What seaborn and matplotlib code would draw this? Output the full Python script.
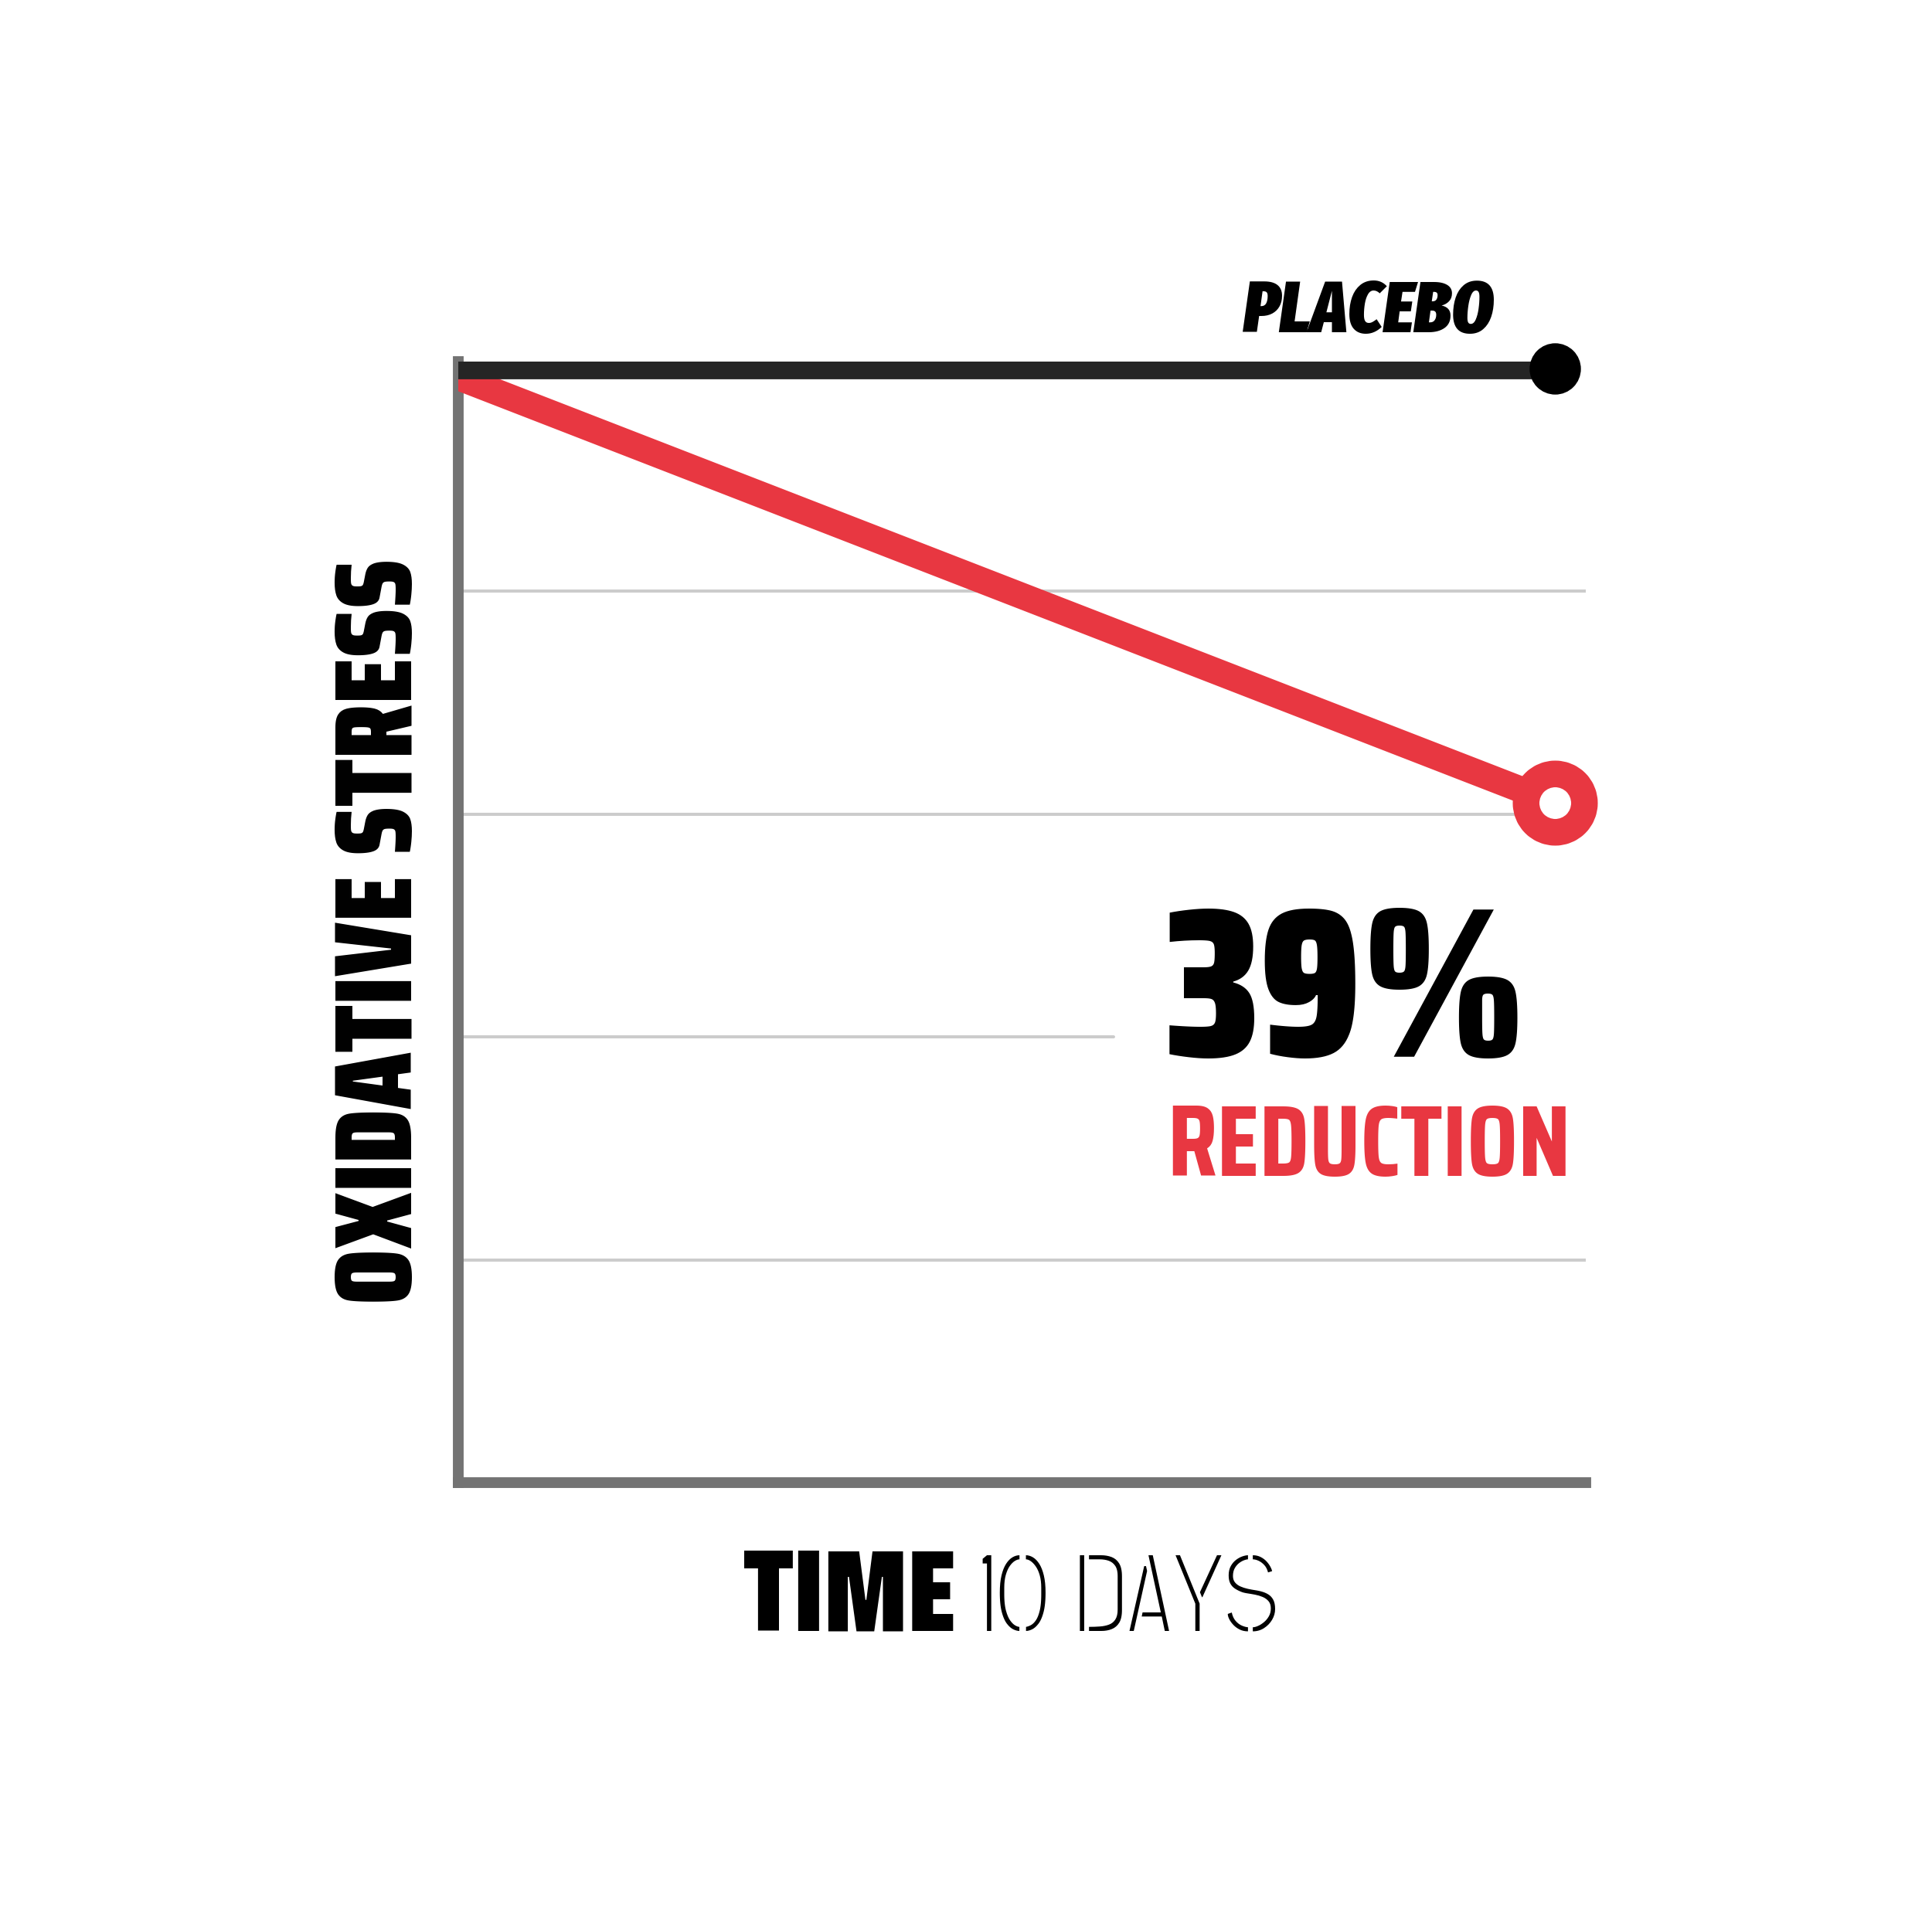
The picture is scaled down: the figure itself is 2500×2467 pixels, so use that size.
import matplotlib
matplotlib.use("Agg")
import matplotlib.pyplot as plt
import seaborn as sns
import pandas as pd

# Values
days = [0, 10]
placebo = [5.0, 5.0]
treatment = [4.96, 3.05]
grid_levels = [1, 2, 3, 4]
reduction_label = "39%"
reduction_word = "REDUCTION"
series_label = "PLACEBO"
y_title = "OXIDATIVE STRESS"
x_title_bold = "TIME"
x_title_light = "10 DAYS"

df = pd.DataFrame({
    "day": days * 2,
    "stress": placebo + treatment,
    "group": ["Placebo"] * len(days) + ["Treatment"] * len(days),
})

RED = "#e83741"
DARK = "#252525"
AXIS_GREY = "#737373"
GRID_GREY = "#cccccc"
NARROW = ["Saira Condensed", "DejaVu Sans"]
ITALIC = ["Fira Sans Extra Condensed", "Roboto Condensed", "DejaVu Sans"]

sns.set_style("white")
plt.rcParams["font.family"] = NARROW
plt.rcParams["text.color"] = "black"
plt.rcParams["axes.labelcolor"] = "black"

fig = plt.figure(figsize=(25, 24.67), dpi=100)
ax = fig.add_axes([0.2372, 0.2221, 0.5836, 0.5882])

# Lines: placebo stays flat, treatment drops
sns.lineplot(data=df[df.group == "Placebo"], x="day", y="stress", color=DARK,
             lw=20, ax=ax, zorder=4, solid_capstyle="butt")
sns.lineplot(data=df[df.group == "Treatment"], x="day", y="stress", color=RED,
             lw=24.5, ax=ax, zorder=3, solid_capstyle="butt")
ax.plot(days[-1], placebo[-1], "o", ms=46.8, color="black", zorder=5, clip_on=False)
ax.plot(days[-1], treatment[-1], "o", ms=54.4, mfc="white", mec=RED, mew=24.8,
        zorder=5, clip_on=False)

ax.set_xlim(0, 10.28)
ax.set_ylim(0, 5.03)
ax.set_xticks([])
ax.set_yticks([])
ax.set_xlabel("")
for side in ["top", "right"]:
    ax.spines[side].set_visible(False)
for side in ["left", "bottom"]:
    ax.spines[side].set_color(AXIS_GREY)
    ax.spines[side].set_linewidth(10)

# Annotations
ax.text(8.3, 5.163, series_label, fontsize=68, fontweight=900, style="italic",
        family=ITALIC, ha="center", va="baseline")
big = ax.text(6.44, 1.91, reduction_label, fontsize=198, fontweight=900,
              ha="left", va="baseline")
ax.text(6.46, 1.377, reduction_word, fontsize=94, fontweight=700, color=RED,
        ha="left", va="baseline")

# Axis titles
ax.set_ylabel(y_title, fontsize=102, fontweight=900, va="baseline")
ax.yaxis.set_label_coords(-0.0411, 0.492)
ax.text(0.4425, -0.1316, x_title_bold, transform=ax.transAxes, fontsize=108,
        fontweight=900, ha="right", va="baseline")
ax.text(0.4616, -0.1316, x_title_light, transform=ax.transAxes, fontsize=100,
        family="Stick No Bills", ha="left", va="baseline")

# Grid lines, broken where they would run into the 39% figure
fig.canvas.draw()
bb = big.get_window_extent().transformed(ax.transAxes.inverted())
for level in grid_levels:
    y_frac = ax.transLimits.transform((0, level))[1]
    xmax = 1.0
    if bb.y0 - 0.01 <= y_frac <= bb.y1:
        xmax = bb.x0 - 0.045
    ax.axhline(level, xmax=xmax, color=GRID_GREY, lw=2.9, zorder=0.5)

fig.savefig("out.png", dpi=100, facecolor="white")
